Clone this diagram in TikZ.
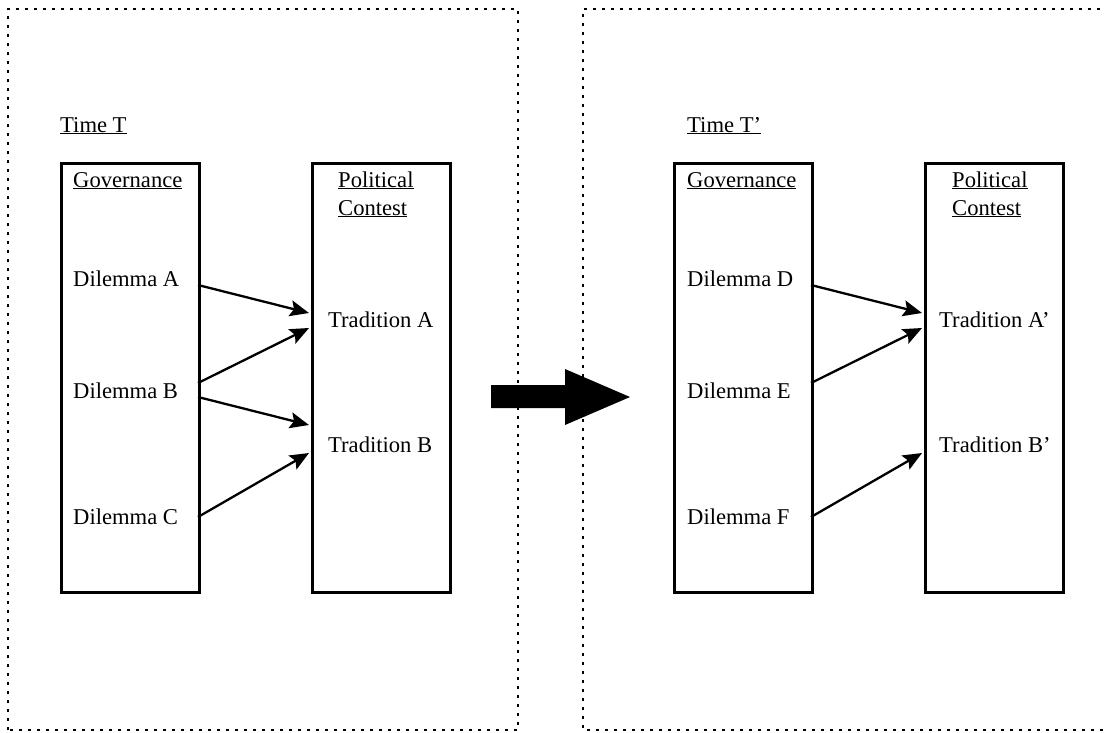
\documentclass[tikz,border=0pt]{standalone}
\usepackage{fontspec}
\setmainfont{Liberation Serif}
\usetikzlibrary{arrows.meta}
\begin{document}
\begin{tikzpicture}[x=1pt,y=-1pt,
  lbl/.style={anchor=base west,inner sep=0pt,font=\fontsize{22.6}{28}\selectfont},
  frame/.style={draw,line width=2.6pt,dash pattern=on 2.6pt off 6.4pt},
  colbox/.style={draw,line width=2.6pt,anchor=north west,minimum width=138pt,minimum height=429pt,inner sep=0pt},
  link/.style={line width=2.3pt,-{Stealth[length=19pt,width=16pt,inset=3.5pt]}}
]
\useasboundingbox (0,0) rectangle (1105,732);
% dotted frames
\draw[frame] (8,730) -- (8,9) -- (518,9) -- (518,730) -- cycle;
\draw[frame] (1112,730) -- (583,730) -- (583,9) -- (1112,9);
% big arrow
\fill (491,385) -- (565,385) -- (565,369) -- (630,397) -- (565,425) -- (565,408) -- (491,408) -- cycle;
% left panel
\node[lbl] (tT) at (60,132) {\underline{Time T}};
\node[colbox] (gov1) at (60,162) {};
\node[colbox] (pol1) at (311,162) {};
\node[lbl] (g1) at (73,187) {\underline{Governance}};
\node[lbl] (p1) at (338,187) {\underline{Political}};
\node[lbl] (c1) at (338,215) {\underline{Contest}};
\node[lbl] (dA) at (73,286) {Dilemma A};
\node[lbl] (dB) at (73,398) {Dilemma B};
\node[lbl] (dC) at (73,524) {Dilemma C};
\node[lbl] (tA) at (328,327) {Tradition A};
\node[lbl] (tB) at (328,452) {Tradition B};
\coordinate (a1s) at (198,285); \coordinate (a1e) at (309,313);
\coordinate (a2s) at (198,383); \coordinate (a2e) at (309,328);
\coordinate (a3s) at (198,397); \coordinate (a3e) at (309,425);
\coordinate (a4s) at (198,517); \coordinate (a4e) at (309,453);
\draw[link] (a1s) -- (a1e);
\draw[link] (a2s) -- (a2e);
\draw[link] (a3s) -- (a3e);
\draw[link] (a4s) -- (a4e);
% right panel
\node[lbl] (tT2) at (687,132) {\underline{Time T’}};
\node[colbox] (gov2) at (673,162) {};
\node[colbox] (pol2) at (924,162) {};
\node[lbl] (g2) at (687,187) {\underline{Governance}};
\node[lbl] (p2) at (952,187) {\underline{Political}};
\node[lbl] (c2) at (952,215) {\underline{Contest}};
\node[lbl] (dD) at (687,286) {Dilemma D};
\node[lbl] (dE) at (687,398) {Dilemma E};
\node[lbl] (dF) at (687,524) {Dilemma F};
\node[lbl] (tA2) at (939,327) {Tradition A’};
\node[lbl] (tB2) at (939,452) {Tradition B’};
\coordinate (b1s) at (811,285); \coordinate (b1e) at (922,313);
\coordinate (b2s) at (811,383); \coordinate (b2e) at (922,328);
\coordinate (b3s) at (811,517); \coordinate (b3e) at (922,453);
\draw[link] (b1s) -- (b1e);
\draw[link] (b2s) -- (b2e);
\draw[link] (b3s) -- (b3e);
\end{tikzpicture}
\end{document}
